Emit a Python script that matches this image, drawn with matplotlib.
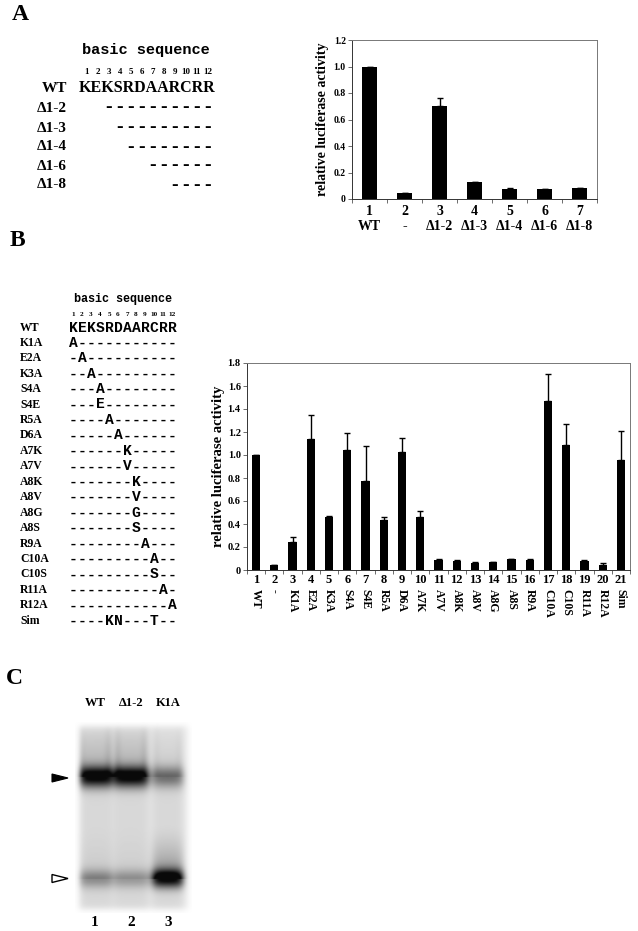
import numpy as np
import matplotlib
matplotlib.use("Agg")
import matplotlib.pyplot as plt
from matplotlib.patches import Polygon

plt.rcParams['font.family'] = ['Liberation Serif', 'DejaVu Serif']
plt.rcParams['font.weight'] = 'bold'

# ---- panel A data
a_numbers = ['1', '2', '3', '4', '5', '6', '7']
a_names = ['WT', '-', 'Δ1-2', 'Δ1-3', 'Δ1-4', 'Δ1-6', 'Δ1-8']
a_values = [1.0, 0.043, 0.70, 0.125, 0.075, 0.075, 0.08]
a_errors = [0.0, 0.004, 0.065, 0.006, 0.005, 0.004, 0.006]
a_yticks = [0, 0.2, 0.4, 0.6, 0.8, 1.0, 1.2]
a_ytick_labels = ['0', '0.2', '0.4', '0.6', '0.8', '1.0', '1.2']

wt_seq = 'KEKSRDAARCRR'
seq_numbers = ['1', '2', '3', '4', '5', '6', '7', '8', '9', '10', '11', '12']
a_rows = ['Δ1-2', 'Δ1-3', 'Δ1-4', 'Δ1-6', 'Δ1-8']
a_row_seqs = ['  ----------', '   ---------', '    --------',
              '      ------', '        ----']

# ---- panel B data
b_numbers = [str(i) for i in range(1, 22)]
b_names = ['WT', '-', 'K1A', 'E2A', 'K3A', 'S4A', 'S4E', 'R5A', 'D6A', 'A7K',
           'A7V', 'A8K', 'A8V', 'A8G', 'A8S', 'R9A', 'C10A', 'C10S', 'R11A',
           'R12A', 'Sim']
b_values = [1.0, 0.04, 0.24, 1.14, 0.463, 1.047, 0.778, 0.434, 1.027, 0.463,
            0.087, 0.081, 0.064, 0.067, 0.095, 0.09, 1.473, 1.085, 0.081,
            0.04, 0.96]
b_errors = [0.0, 0.003, 0.044, 0.205, 0.006, 0.14, 0.30, 0.03, 0.12, 0.05,
            0.012, 0.005, 0.008, 0.004, 0.005, 0.004, 0.23, 0.185, 0.005,
            0.024, 0.245]
b_yticks = [0, 0.2, 0.4, 0.6, 0.8, 1.0, 1.2, 1.4, 1.6, 1.8]
b_ytick_labels = ['0', '0.2', '0.4', '0.6', '0.8', '1.0', '1.2', '1.4', '1.6', '1.8']

b_rows = ['K1A', 'E2A', 'K3A', 'S4A', 'S4E', 'R5A', 'D6A', 'A7K', 'A7V', 'A8K',
          'A8V', 'A8G', 'A8S', 'R9A', 'C10A', 'C10S', 'R11A', 'R12A', 'Sim']
b_row_seqs = ['A-----------', '-A----------', '--A---------', '---A--------',
              '---E--------', '----A-------', '-----A------', '------K-----',
              '------V-----', '-------K----', '-------V----', '-------G----',
              '-------S----', '--------A---', '---------A--', '---------S--',
              '----------A-', '-----------A', '----KN---T--']

# ---- panel C data (gel)
gel_lanes = ['WT', 'Δ1-2', 'K1A']
gel_numbers = ['1', '2', '3']
gel_upper_band = [1.05, 1.05, 0.5]
gel_upper_smear = [0.40, 0.40, 0.20]
gel_lower_band = [0.36, 0.30, 1.05]
gel_lower_smear = [0.08, 0.06, 0.40]

fig = plt.figure(figsize=(6.38, 9.31), dpi=100)
ov = fig.add_axes([0, 0, 1, 1])
ov.set_xlim(0, 638)
ov.set_ylim(931, 0)
ov.axis('off')


def txt(x, y, s, size=9, **kw):
    kw.setdefault('ha', 'center')
    kw.setdefault('va', 'center')
    ov.text(x, y, s, fontsize=size, fontweight='bold', **kw)


# panel letters
txt(20, 15, 'A', size=17)
txt(17, 241, 'B', size=17)
txt(14, 678, 'C', size=17)

# ---- panel A sequence table
mono = ['Liberation Mono', 'DejaVu Sans Mono']
txt(146, 50, 'basic sequence', size=11, family=mono)
for i, n in enumerate(seq_numbers):
    txt(87 + 11.0 * i, 72, n, size=6.5)
txt(67, 88, 'WT', size=11, ha='right')
txt(147.5, 88, wt_seq, size=11.5)
a_row_y = [108, 128, 147, 166, 185]
for lab, seq, y in zip(a_rows, a_row_seqs, a_row_y):
    txt(67, y, lab, size=11, ha='right')
    for i, ch in enumerate(seq):
        if ch != ' ':
            txt(87 + 11.0 * i, y, ch, size=14)

# ---- panel B sequence table
txt(123, 299, 'basic sequence', size=8.5, family=mono)
for i, n in enumerate(seq_numbers):
    txt(73 + 9.0 * i, 314, n, size=5.2)
txt(20, 328, 'WT', size=8.5, ha='left')
for i, ch in enumerate(wt_seq):
    txt(73 + 9.0 * i, 328, ch, size=10.5, family=mono)
for k, (lab, seq) in enumerate(zip(b_rows, b_row_seqs)):
    y = 342.7 + 15.45 * k
    txt(20, y, lab, size=8.5, ha='left')
    for i, ch in enumerate(seq):
        txt(73 + 9.0 * i, y, ch, size=10.5, family=mono)


def bar_panel(rect, values, errors, numbers, names, yticks, ylabels,
              width, ysize, lsize, label_pad, name_y, rotate):
    ax = fig.add_axes(rect)
    x = np.arange(1, len(values) + 1)
    ax.bar(x, values, width=width, color='black', zorder=2)
    ax.errorbar(x, values, yerr=[np.zeros(len(errors)), errors], fmt='none',
                ecolor='black', elinewidth=1.0, capsize=2.2, capthick=1.0,
                zorder=3)
    ax.set_xlim(0.5, len(values) + 0.5)
    ax.set_ylim(yticks[0], yticks[-1])
    ax.set_yticks(yticks)
    ax.set_yticklabels(ylabels, fontsize=ysize, fontweight='bold')
    ax.set_xticks(x)
    ax.set_xticklabels(numbers, fontsize=lsize, fontweight='bold')
    ax.set_xticks(np.arange(0.5, len(values) + 1), minor=True)
    ax.tick_params(axis='x', which='major', length=0, pad=label_pad)
    ax.tick_params(axis='x', which='minor', length=3, width=0.6, color='#555555')
    ax.tick_params(axis='y', length=3, width=0.6, color='#555555', pad=1.5)
    for s in ax.spines.values():
        s.set_linewidth(0.7)
        s.set_color('#777777')
    ax.spines['left'].set_color('#333333')
    ax.spines['bottom'].set_color('#333333')
    for xi, nm in zip(x, names):
        if rotate:
            ax.text(xi, name_y, nm, rotation=270, ha='center', va='top',
                    fontsize=lsize - 0.5, fontweight='bold',
                    transform=ax.get_xaxis_transform())
        else:
            ax.text(xi, name_y, nm, ha='center', va='center',
                    fontsize=lsize, fontweight='bold',
                    transform=ax.get_xaxis_transform())
    return ax


W, H = 638.0, 931.0
ax_a = bar_panel([352 / W, 1 - 199 / H, 245 / W, 159 / H], a_values, a_errors,
                 a_numbers, a_names, a_yticks, a_ytick_labels,
                 width=0.43, ysize=7, lsize=10, label_pad=4,
                 name_y=-(227 - 199) / 159.0, rotate=False)
ax_a.set_ylabel('relative luciferase activity', fontsize=10,
                fontweight='bold', labelpad=3)

ax_b = bar_panel([247 / W, 1 - 570 / H, 383 / W, 207 / H], b_values, b_errors,
                 b_numbers, b_names, b_yticks, b_ytick_labels,
                 width=0.45, ysize=7.5, lsize=9, label_pad=3,
                 name_y=-(589 - 570) / 207.0, rotate=True)
ax_b.set_ylabel('relative luciferase activity', fontsize=10.5,
                fontweight='bold', labelpad=2)

# ---- panel C gel, built from band intensities
gx0, gx1, gy0, gy1 = 75, 192, 722, 913
xs = np.linspace(gx0, gx1, 234)
ys = np.linspace(gy0, gy1, 382)
X, Y = np.meshgrid(xs, ys)
lane_x = [95, 131, 168]
lane_hw = [17, 17, 15]
up_y, lo_y = 777, 879
inten = np.zeros_like(X)
for c, hw, ub, us, lb, ls in zip(lane_x, lane_hw, gel_upper_band, gel_upper_smear,
                                 gel_lower_band, gel_lower_smear):
    prof = 1.0 / (1.0 + np.exp((np.abs(X - c) - hw) / 2.5))
    band_u = ub * np.exp(-0.5 * ((Y - up_y) / 7.5) ** 2)
    smear_u = us * np.clip((Y - gy0) / (up_y - gy0), 0, 1) ** 0.6 * (Y < up_y)
    smear_u = smear_u * (0.7 + 0.3 * np.exp(-0.5 * ((np.abs(X - c) - hw + 3) / 3.0) ** 2))
    band_l = lb * np.exp(-0.5 * ((Y - lo_y) / 6.5) ** 2)
    smear_l = ls * np.clip((Y - 825) / (lo_y - 825), 0, 1) ** 1.5 * (Y < lo_y)
    haze = 0.08 * ((Y > up_y) & (Y < lo_y)) + 0.08 * (Y > lo_y)
    inten += prof * (band_u + smear_u + band_l + smear_l + haze)
edge = (1 / (1 + np.exp(-(X - gx0 - 4) / 2.0))) * (1 / (1 + np.exp((X - gx1 + 4) / 2.0))) \
    * (1 / (1 + np.exp(-(Y - gy0 - 4) / 2.0))) * (1 / (1 + np.exp((Y - gy1 + 4) / 2.0)))
gray = 1.0 - edge * (0.09 + 0.82 * inten)
gray = np.clip(gray, 0.04, 1.0)
ov.imshow(gray, cmap='gray', vmin=0, vmax=1, extent=(gx0, gx1, gy1, gy0),
          aspect='auto', interpolation='bilinear', zorder=1)

for c, lab, num in zip(lane_x, gel_lanes, gel_numbers):
    txt(c, 703, lab, size=9)
    txt(c, 922, num, size=11)

ov.add_patch(Polygon([[52, 774], [68, 778], [52, 782]], closed=True,
                     facecolor='black', edgecolor='black', lw=0.8, zorder=3))
ov.add_patch(Polygon([[52, 874.5], [68, 878.5], [52, 882.5]], closed=True,
                     facecolor='white', edgecolor='black', lw=1.0, zorder=3))

fig.savefig('out.png', dpi=100)
